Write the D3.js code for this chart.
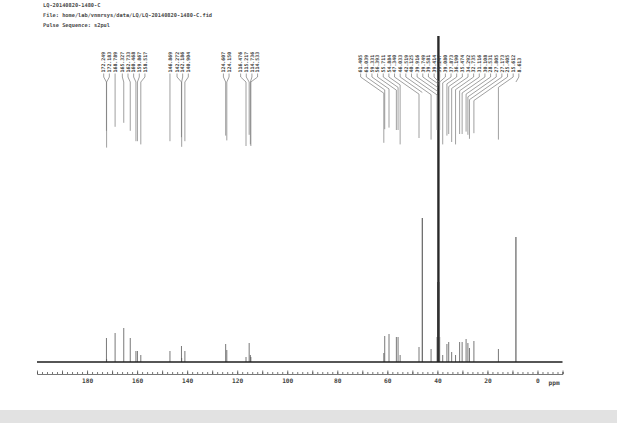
<!DOCTYPE html>
<html>
<head>
<meta charset="utf-8">
<script src="https://cdn.jsdelivr.net/npm/d3@7"></script>
<style>
html,body{margin:0;padding:0;background:#fff;}
svg{display:block;}
</style>
</head>
<body>
<svg id="chart" width="617" height="423"></svg>
<script>
// ---------- data ----------
const headerLines = [
  "LQ-20140820-1480-C",
  "File: home/lab/vnmrsys/data/LQ/LQ-20140820-1480-C.fid",
  "Pulse Sequence: s2pul"
];
const peakLabels = [
  "172.249","172.183","168.789","165.327","162.733","160.468","159.867","158.517",
  "146.869","142.272","142.186","140.904",
  "124.607","124.150","116.476","115.217","114.736","114.533",
  "61.405","61.039","59.331","56.393","55.711","54.884","47.340","46.033","42.519",
  "40.125","39.916","39.749","39.581","39.414","39.247","39.080",
  "37.873","36.190","35.474","34.292","32.735","31.116","30.108","28.531","27.805",
  "27.173","25.405","15.612","8.613"
];
const peakPpm = peakLabels.map(Number);
const peakIntensity = [
  24,3,29,34,24,11,11,7,
  11,16,4,11,
  18,12,5,19,7,5,
  9,26,28,25,25,7,15,144,13,
  25,80,400,500,400,80,25,
  7,18,20,10,7,20,20,23,19,
  14,21,13,125
];
const ppmTickLabels = [180,160,140,120,100,80,60,40,20,0];
const axisDomain = [200,-10];

// ---------- layout ----------
const svg = d3.select("#chart");
const baseY = 362, topClip = 36, axisY = 374;
const x = d3.scaleLinear().domain(axisDomain).range([37, 562.5]);
const y = d3.scaleLinear().domain([0, baseY - topClip]).range([baseY, topClip]).clamp(true);

// scan edge band
svg.append("rect").attr("x",0).attr("y",410).attr("width",617).attr("height",13)
  .attr("fill","#e2e2e2");

// header
svg.append("g").selectAll("text").data(headerLines).join("text")
  .attr("x",43).attr("y",(d,i)=>7+i*9.8)
  .attr("font-family","DejaVu Sans Mono, monospace").attr("font-size",5.3)
  .attr("font-weight","bold").attr("fill","#4a4a4a").text(d=>d);

// axis (ticks pointing up)
const minor = d3.range(-10, 201, 2);
svg.append("g").attr("transform",`translate(0,${axisY})`)
  .call(d3.axisTop(x).tickValues(minor).tickSize(2).tickFormat(""))
  .call(g=>g.selectAll("path,line").attr("stroke","#555").attr("stroke-width",0.8));
svg.append("g").attr("transform",`translate(0,${axisY})`)
  .call(d3.axisTop(x).tickValues(d3.range(-10,201,10)).tickSize(3.5).tickFormat(""))
  .call(g=>g.select(".domain").remove())
  .call(g=>g.selectAll("line").attr("stroke","#555").attr("stroke-width",0.8));
const lab = svg.append("g").attr("transform",`translate(0,${axisY})`)
  .call(d3.axisBottom(x).tickValues(ppmTickLabels).tickSize(0).tickPadding(5).tickFormat(d3.format("d")));
lab.select(".domain").remove();
lab.selectAll("text").attr("font-family","DejaVu Sans Mono, monospace").attr("font-size",6.2)
  .attr("font-weight","bold").attr("fill","#444");
svg.append("text").attr("x",x(-4.4)).attr("y",axisY+10.5)
  .attr("font-family","DejaVu Sans Mono, monospace").attr("font-size",6.2)
  .attr("font-weight","bold").attr("fill","#444").text("ppm");

// peaks data
const peaks = peakPpm.map((p,i)=>({ppm:p, inten:peakIntensity[i], label:peakLabels[i], px:x(p)}));

// spectrum peaks
svg.append("g").selectAll("line").data(peaks).join("line")
  .attr("x1",d=>d.px).attr("x2",d=>d.px)
  .attr("y1",y(0)).attr("y2",d=>y(d.inten))
  .attr("stroke",d=>d.inten>300?"#2a2a2a":"#555")
  .attr("stroke-width",d=>d.inten>300?1.4:(d.inten>100?1.1:0.8));
// baseline
svg.append("line").attr("x1",x(axisDomain[0])).attr("x2",x(axisDomain[1]))
  .attr("y1",y(0)).attr("y2",y(0)).attr("stroke","#1e1e1e").attr("stroke-width",1.4);

// label placement (spread around peak positions)
const sp = 5.65;
const sorted = peaks.slice().sort((a,b)=>a.px-b.px);
let clusters = sorted.map(d=>({m:[d], c:d.px}));
let changed = true;
while(changed){
  changed=false;
  for(let i=0;i<clusters.length-1;i++){
    const A=clusters[i], B=clusters[i+1];
    const aEnd=A.c+(A.m.length-1)/2*sp, bStart=B.c-(B.m.length-1)/2*sp;
    if(bStart-aEnd<sp){
      const m=A.m.concat(B.m);
      clusters.splice(i,2,{m, c:d3.mean(m,d=>d.px)});
      changed=true; break;
    }
  }
}
clusters.forEach(cl=>cl.m.forEach((d,i)=>{d.lx=cl.c+(i-(cl.m.length-1)/2)*sp;}));

const labBottom = 72.5, bendY = 77;
// connectors
const conn = svg.append("g").attr("fill","none").attr("stroke","#777").attr("stroke-width",0.7);
peaks.forEach(d=>{
  const dx=Math.abs(d.px-d.lx);
  const diagEnd = bendY + Math.max(5, 0.7*dx);
  const markBottom = Math.max(diagEnd, 150-0.8*Math.min(d.inten,200));
  conn.append("path").attr("d",
    `M${d.lx},${labBottom+1}L${d.lx},${bendY}L${d.px},${diagEnd}L${d.px},${markBottom}`);
});
// labels
svg.append("g").selectAll("text").data(peaks).join("text")
  .attr("transform",d=>`translate(${d.lx},${labBottom}) rotate(-90)`)
  .attr("dy","0.35em")
  .attr("font-family","DejaVu Sans Mono, monospace").attr("font-size",4.9)
  .attr("font-weight","bold").attr("fill","#3a3a3a").text(d=>d.label);
</script>
</body>
</html>
